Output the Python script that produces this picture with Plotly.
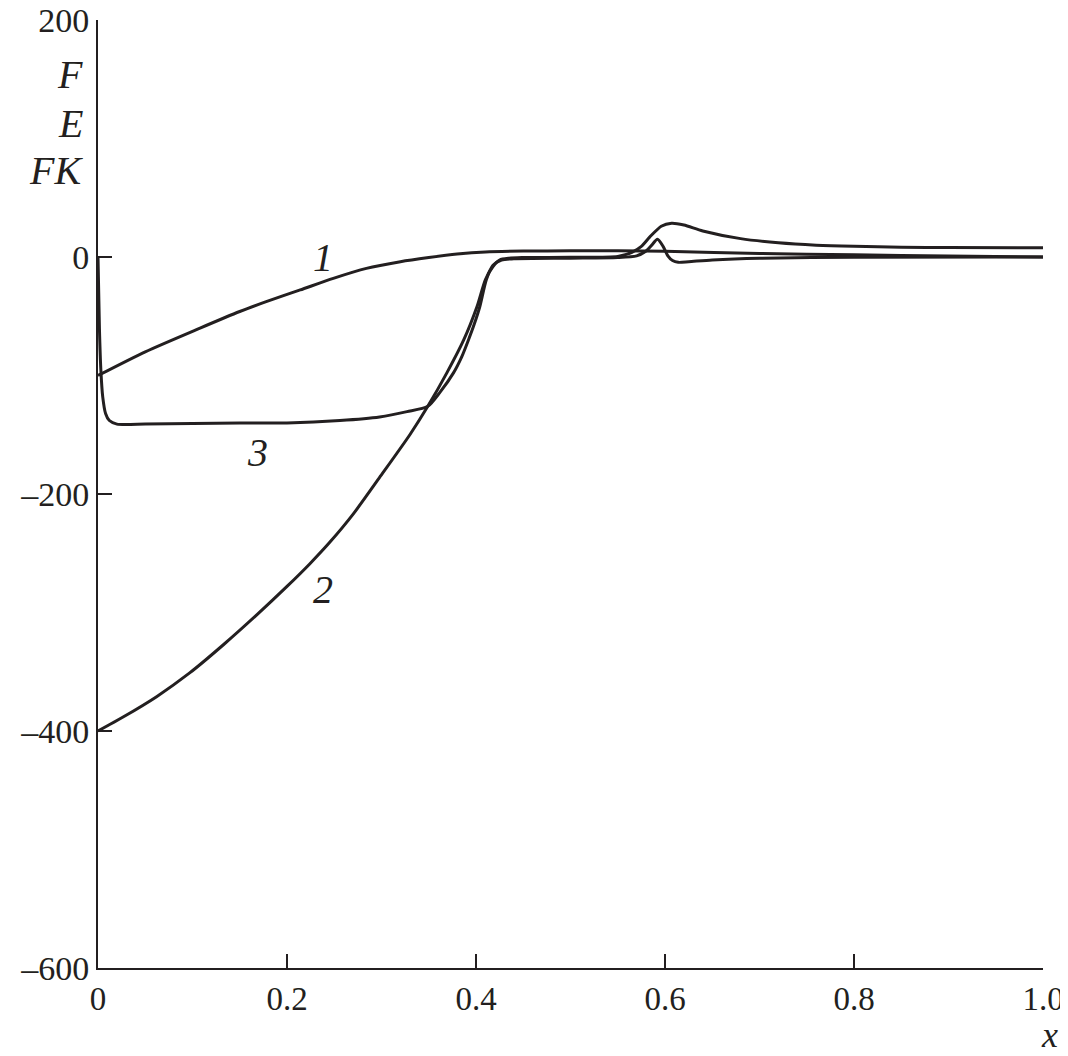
import plotly.graph_objects as go

# Curve 1 (F)
x1 = [0.0, 0.05, 0.108, 0.15, 0.178, 0.214, 0.249, 0.284, 0.32, 0.35, 0.38, 0.41, 0.45, 0.5, 0.55, 0.6,
      0.7, 0.8, 0.9, 1.0]
y1 = [-100, -80, -60, -46, -37.7, -27.8, -18, -9.6, -4, -0.5, 2.5, 4.3, 5, 5.2, 5.2, 4.8,
      3, 1.8, 0.8, 0]

# Curve 2 (E)
x2 = [0.0, 0.027, 0.062, 0.097, 0.133, 0.168, 0.2, 0.224, 0.245, 0.27, 0.298, 0.33, 0.349,
      0.369, 0.387, 0.401, 0.41, 0.418, 0.425, 0.435, 0.45, 0.5, 0.55, 0.565, 0.575, 0.584, 0.596,
      0.607, 0.62, 0.64, 0.68, 0.72, 0.76, 0.8, 0.85, 0.9, 1.0]
y2 = [-400, -388, -371, -351, -327, -302, -278, -259, -241, -217, -186, -150, -126,
      -98, -70, -42, -19, -8, -2.5, -1, -0.5, -0.2, 0.5, 4, 9, 17, 26,
      28.5, 27, 22, 15.5, 12, 10, 9, 8.3, 8, 7.8]

# Curve 3 (FK)
x3 = [0.0, 0.0015, 0.003, 0.005, 0.008, 0.012, 0.02, 0.05, 0.1, 0.15, 0.2, 0.256, 0.298, 0.327,
      0.349, 0.362, 0.376, 0.385, 0.392, 0.398, 0.404, 0.411, 0.418, 0.427, 0.44, 0.5, 0.55, 0.57,
      0.58, 0.586, 0.592, 0.598, 0.603, 0.608, 0.614, 0.625, 0.65, 0.7, 0.8, 1.0]
y3 = [0, -60, -95, -118, -132, -138, -141, -141, -140.5, -140, -140, -138, -135, -130.5,
      -126, -114, -98, -84, -70, -57, -42, -19, -7, -2.5, -1.5, -1, -0.5, 1,
      5, 10, 15, 9, 1, -3, -4.5, -4, -2.5, -1, -0.3, 0]

line_color = "#231f20"
fig = go.Figure()
for xs, ys in [(x1, y1), (x2, y2), (x3, y3)]:
    fig.add_trace(go.Scatter(x=xs, y=ys, mode="lines",
                             line=dict(color=line_color, width=3, shape="spline", smoothing=0.7),
                             showlegend=False, hoverinfo="skip"))

font = "Liberation Serif, Times New Roman, Times, serif"
tick_x = [0, 0.2, 0.4, 0.6, 0.8, 1.0]
tick_x_text = ["0", "0.2", "0.4", "0.6", "0.8", "1.0"]
tick_y = [-600, -400, -200, 0, 200]
tick_y_text = ["\u2013600", "\u2013400", "\u2013200", "0", "200"]

fig.update_layout(
    width=1060, height=1048,
    margin=dict(l=90, r=25, t=12, b=88, autoexpand=False),
    paper_bgcolor="white", plot_bgcolor="white",
    font=dict(family=font, size=36, color=line_color),
    xaxis=dict(range=[0, 1.0], tickvals=tick_x, ticktext=tick_x_text, automargin=False,
               ticklabeloverflow="allow",
               showgrid=False, zeroline=False, showline=True, linecolor=line_color, linewidth=2,
               ticks="inside", ticklen=14, tickwidth=2, tickcolor=line_color,
               tickfont=dict(family=font, size=33, color=line_color)),
    yaxis=dict(range=[-600, 200], tickvals=tick_y, ticktext=tick_y_text, automargin=False,
               ticklabeloverflow="allow",
               showgrid=False, zeroline=False, showline=True, linecolor=line_color, linewidth=2,
               ticks="inside", ticklen=14, tickwidth=2, tickcolor=line_color,
               tickfont=dict(family=font, size=34, color=line_color)),
)

lab = dict(family=font, size=40, color=line_color)
annots = [
    dict(text="<i>1</i>", x=0.238, y=0, xref="x", yref="y"),
    dict(text="<i>2</i>", x=0.238, y=-281, xref="x", yref="y"),
    dict(text="<i>3</i>", x=0.169, y=-165, xref="x", yref="y"),
]
for a in annots:
    fig.add_annotation(showarrow=False, font=lab, xanchor="center", yanchor="middle", **a)

for txt, yv in [("F", 153.6), ("E", 113), ("FK", 73.4)]:
    fig.add_annotation(text="<i>%s</i>" % txt, x=-0.014, y=yv, xref="paper", yref="y",
                       xanchor="right", yanchor="middle", showarrow=False, font=lab)

fig.add_annotation(text="<i>x</i>", x=1.007, y=-0.071, xref="paper", yref="paper",
                   xanchor="center", yanchor="middle", showarrow=False,
                   font=dict(family=font, size=36, color=line_color))

fig.write_html("out.html")
